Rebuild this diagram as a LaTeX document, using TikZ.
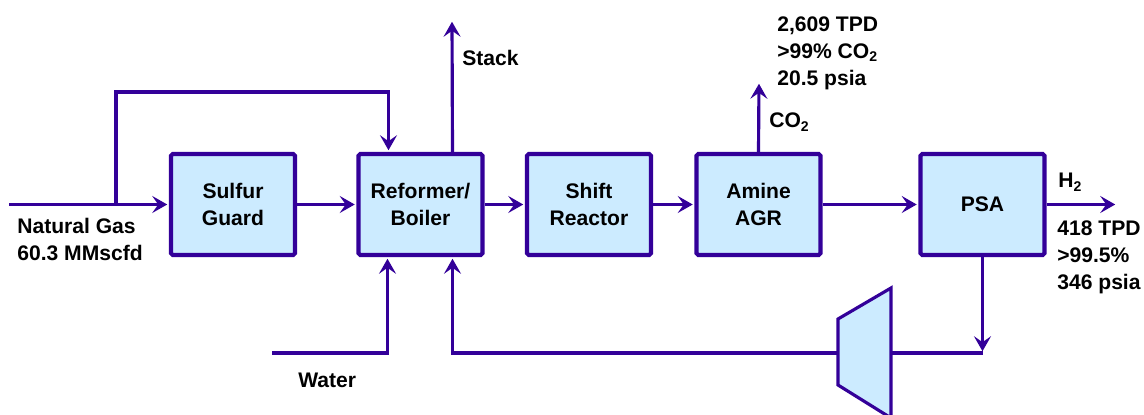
\documentclass[tikz,border=0pt]{standalone}
\usepackage{fontspec}
\setmainfont{Liberation Sans}
\usetikzlibrary{arrows.meta,calc}
\definecolor{flowline}{RGB}{51,0,153}
\definecolor{boxfill}{RGB}{204,235,255}
\tikzset{
  every node/.style={font=\fontsize{12}{15.4}\selectfont\bfseries},
  unitbox/.style={draw=flowline, fill=boxfill, line width=2.3pt, rounded corners=1pt,
    minimum width=2.48cm, minimum height=2.02cm, align=center, inner sep=0pt},
  pipe/.style={draw=flowline, line width=1.8pt},
  flow/.style={pipe, shorten >=1pt, -{Stealth[length=3mm,width=3.4mm,inset=1.2mm]}},
  tag/.style={inner sep=0pt, align=left}
}

\begin{document}
\begin{tikzpicture}[x=0.2mm, y=-0.2mm]
  \useasboundingbox (0,0) rectangle (1144,415);

  % process units
  \node[unitbox] (sulfur) at (233,204.5) {Sulfur\\Guard};
  \node[unitbox] (ref) at (420.5,204.5) {Reformer/\\Boiler};
  \node[unitbox] (shift) at (589,204.5) {Shift\\Reactor};
  \node[unitbox] (amine) at (758.5,204.5) {Amine\\AGR};
  \node[unitbox] (psa) at (982.5,204.5) {PSA};

  % stream ends
  \coordinate (ng) at (9,204.5);
  \coordinate (split) at (116,204.5);
  \coordinate (bypass) at (116,92);
  \coordinate (stack) at (452,20);
  \coordinate (co2) at (759,82);
  \coordinate (h2) at (1117,204.5);
  \coordinate (ret) at (982.5,353);
  \coordinate (water) at (272,353);
  \coordinate (compL) at (838,353);
  \coordinate (compR) at (891,353);

  % main train
  \draw[flow] (ng) -- (sulfur.west);
  \draw[flow] (split) -- (bypass) -| ($(ref.north)+(-32,0)$);
  \draw[flow] (sulfur.east) -- (ref.west);
  \draw[flow] (ref.east) -- (shift.west);
  \draw[flow] (shift.east) -- (amine.west);
  \draw[flow] (amine.east) -- (psa.west);
  \draw[flow] (psa.east) -- (h2);
  \draw[flow] ($(ref.north)+(32,0)$) -- (stack);
  \draw[flow] (amine.north) -- (co2);

  % recycle and water
  \draw[flow] (psa.south) -- (ret);
  \draw[pipe] (ret) -- (compR);
  \draw[flow] (compL) -| ($(ref.south)+(32,0)$);
  \draw[flow] (water) -| ($(ref.south)+(-33,0)$);

  % compressor
  \draw[pipe, fill=boxfill] (838,319) -- (891,288) -- (891,418) -- (838,385) -- cycle;

  % labels
  \node[tag, anchor=west] (stacklbl) at (462,58) {Stack};
  \node[tag, anchor=base west] (co2lbl) at (769,128) {CO\textsubscript{2}};
  \node[tag, anchor=north west] (co2data) at (777,16) {2,609 TPD\\>99\% CO\textsubscript{2}\\20.5 psia};
  \node[tag, anchor=base west] (h2lbl) at (1058,188) {H\textsubscript{2}};
  \node[tag, anchor=north west] (h2data) at (1057,220) {418 TPD\\>99.5\%\\346 psia};
  \node[tag, anchor=north west] (nglbl) at (17,218) {Natural Gas\\60.3 MMscfd};
  \node[tag, anchor=base west] (waterlbl) at (298,388) {Water};
\end{tikzpicture}
\end{document}
